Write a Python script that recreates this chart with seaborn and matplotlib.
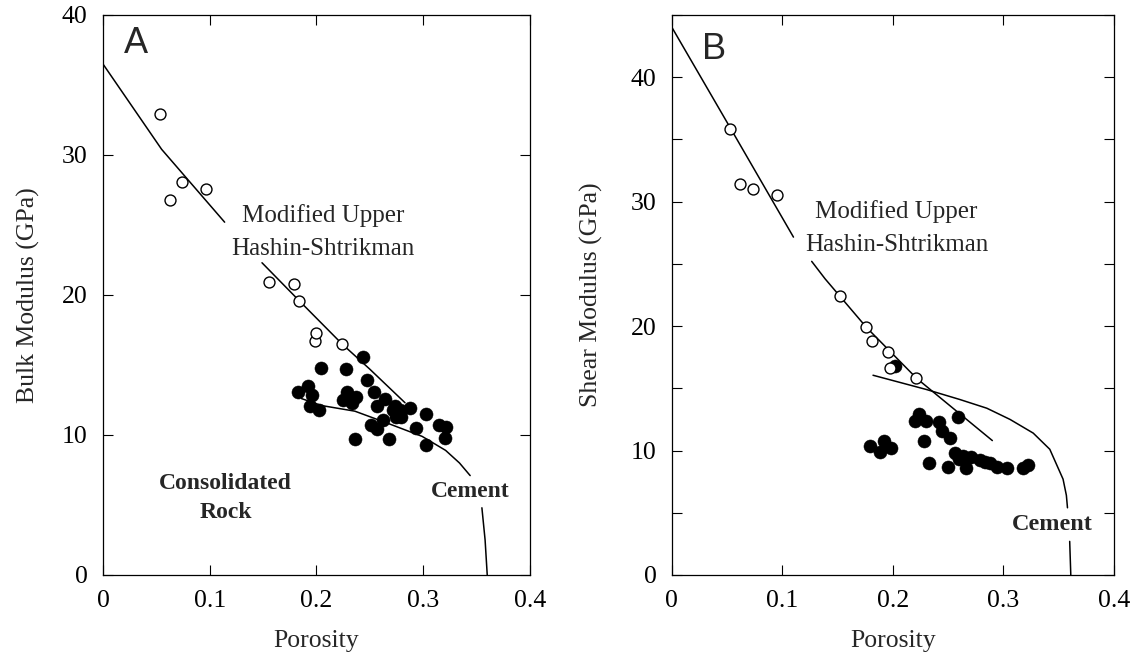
import numpy as np
import matplotlib
matplotlib.use("Agg")
import matplotlib.pyplot as plt
import seaborn as sns

# ---------------- Panel A : Bulk modulus ----------------
a_open_por = [0.053, 0.063, 0.074, 0.097, 0.156, 0.179, 0.184, 0.199, 0.200, 0.224]
a_open_k = [32.9, 26.8, 28.1, 27.6, 20.9, 20.8, 19.6, 16.7, 17.3, 16.5]

a_fill_por = [0.244, 0.204, 0.228, 0.247, 0.192, 0.183, 0.196, 0.229, 0.237, 0.225,
              0.233, 0.254, 0.264, 0.257, 0.194, 0.202, 0.274, 0.278, 0.272, 0.279,
              0.275, 0.288, 0.303, 0.262, 0.251, 0.257, 0.293, 0.315, 0.321, 0.320,
              0.236, 0.268, 0.303]
a_fill_k = [15.6, 14.8, 14.7, 13.9, 13.5, 13.05, 12.85, 13.05, 12.7, 12.5,
            12.3, 13.1, 12.6, 12.1, 12.1, 11.8, 12.1, 11.8, 11.8, 11.3,
            11.3, 11.9, 11.5, 11.1, 10.7, 10.4, 10.5, 10.7, 10.6, 9.8,
            9.7, 9.7, 9.3]

a_hs_por = [0.0, 0.055, 0.114, 0.149, 0.185, 0.224, 0.250, 0.283]
a_hs_k = [36.5, 30.4, 25.2, 22.3, 19.5, 16.5, 14.7, 12.3]
a_hs_seg = [0, 0, 0, 1, 1, 1, 1, 1]

a_cem_por = [0.186, 0.205, 0.236, 0.268, 0.299, 0.321, 0.334, 0.344, 0.355, 0.358, 0.360]
a_cem_k = [12.6, 12.1, 11.7, 10.8, 9.9, 8.9, 8.0, 7.1, 4.8, 2.5, 0.0]
a_cem_seg = [0, 0, 0, 0, 0, 0, 0, 0, 1, 1, 1]

# ---------------- Panel B : Shear modulus ----------------
b_open_por = [0.053, 0.062, 0.073, 0.095, 0.152, 0.176, 0.181, 0.196, 0.197, 0.221]
b_open_g = [35.8, 31.4, 31.0, 30.5, 22.4, 19.9, 18.8, 17.9, 16.6, 15.8]

b_fill_por = [0.202, 0.259, 0.224, 0.220, 0.230, 0.242, 0.244, 0.252, 0.228, 0.192,
              0.179, 0.198, 0.188, 0.233, 0.256, 0.263, 0.271, 0.279, 0.288, 0.294,
              0.303, 0.250, 0.266, 0.318, 0.3225, 0.260, 0.283]
b_fill_g = [16.8, 12.7, 12.9, 12.4, 12.4, 12.3, 11.55, 11.0, 10.8, 10.75,
            10.35, 10.2, 9.9, 9.0, 9.8, 9.6, 9.5, 9.2, 9.0, 8.7,
            8.6, 8.7, 8.6, 8.6, 8.8, 9.3, 9.1]

b_hs_por = [0.0, 0.053, 0.110, 0.1265, 0.1386, 0.176, 0.2215, 0.290]
b_hs_g = [44.0, 35.9, 27.15, 25.2, 23.8, 19.9, 15.8, 10.8]
b_hs_seg = [0, 0, 0, 1, 1, 1, 1, 1]

b_cem_por = [0.182, 0.2305, 0.2606, 0.285, 0.306, 0.327, 0.342, 0.354, 0.357, 0.358, 0.360, 0.361]
b_cem_g = [16.05, 14.9, 14.1, 13.4, 12.5, 11.4, 10.1, 7.7, 6.4, 5.4, 2.7, 0.0]
b_cem_seg = [0, 0, 0, 0, 0, 0, 0, 0, 0, 0, 1, 1]

x_ticks = [0, 0.1, 0.2, 0.3, 0.4]
x_ticklabels = ["0", "0.1", "0.2", "0.3", "0.4"]
a_yticks = [0, 10, 20, 30, 40]
a_yticklabels = ["0", "10", "20", "30", "40"]
b_yticks = [0, 5, 10, 15, 20, 25, 30, 35, 40, 45]
b_yticklabels = ["0", "", "10", "", "20", "", "30", "", "40", ""]

# ---------------- styling ----------------
sns.set_theme(style="ticks")
plt.rcParams["font.family"] = ["Liberation Serif", "DejaVu Serif"]
plt.rcParams["axes.linewidth"] = 0.9
plt.rcParams["axes.edgecolor"] = "black"

fig = plt.figure(figsize=(11.35, 6.56), dpi=100)
axA = fig.add_axes([0.0907, 0.1235, 0.3762, 0.8537])
axB = fig.add_axes([0.592, 0.1235, 0.3894, 0.8537])


def draw(ax, op_x, op_y, fi_x, fi_y, hs_x, hs_y, hs_seg, ce_x, ce_y, ce_seg):
    sns.lineplot(x=hs_x, y=hs_y, units=hs_seg, estimator=None, sort=False,
                 color="black", linewidth=1.1, ax=ax, legend=False, zorder=2)
    sns.lineplot(x=ce_x, y=ce_y, units=ce_seg, estimator=None, sort=False,
                 color="black", linewidth=1.1, ax=ax, legend=False, zorder=2)
    sns.scatterplot(x=fi_x, y=fi_y, s=88, color="black", edgecolor="black",
                    linewidth=0.4, ax=ax, legend=False, zorder=3)
    sns.scatterplot(x=op_x, y=op_y, s=62, color="white", edgecolor="black",
                    linewidth=1.0, ax=ax, legend=False, zorder=4)


draw(axA, a_open_por, a_open_k, a_fill_por, a_fill_k,
     a_hs_por, a_hs_k, a_hs_seg, a_cem_por, a_cem_k, a_cem_seg)
draw(axB, b_open_por, b_open_g, b_fill_por, b_fill_g,
     b_hs_por, b_hs_g, b_hs_seg, b_cem_por, b_cem_g, b_cem_seg)

for ax, ylim, yt, ytl, ylab, lx in [
    (axA, (0, 40), a_yticks, a_yticklabels, "Bulk Modulus (GPa)", -0.175),
    (axB, (0, 45), b_yticks, b_yticklabels, "Shear Modulus (GPa)", -0.183),
]:
    ax.set_xlim(0, 0.4)
    ax.set_ylim(*ylim)
    ax.set_xticks(x_ticks)
    ax.set_xticklabels(x_ticklabels)
    ax.set_yticks(yt)
    ax.set_yticklabels(ytl)
    ax.tick_params(direction="in", top=True, right=True, length=7, width=0.8,
                   pad=11, labelsize=18.5, colors="black")
    ax.set_xlabel("Porosity", fontsize=18.5)
    ax.set_ylabel(ylab, fontsize=18.5)
    ax.xaxis.label.set_va("center")
    ax.xaxis.set_label_coords(0.5, -0.118)
    ax.yaxis.label.set_va("center")
    ax.yaxis.set_label_coords(lx, 0.5)
    for sp in ax.spines.values():
        sp.set_visible(True)
        sp.set_color("black")

# panel letters
axA.text(0.078, 0.949, "A", transform=axA.transAxes, ha="center", va="center",
         fontsize=26, family=["Liberation Sans", "DejaVu Sans"])
axB.text(0.095, 0.938, "B", transform=axB.transAxes, ha="center", va="center",
         fontsize=26, family=["Liberation Sans", "DejaVu Sans"])

# annotations panel A
axA.text(0.206, 25.7, "Modified Upper", ha="center", va="center", fontsize=18)
axA.text(0.206, 23.3, "Hashin-Shtrikman", ha="center", va="center", fontsize=18)
axA.text(0.115, 6.55, "Consolidated", ha="center", va="center", fontsize=17,
         fontweight="bold")
axA.text(0.115, 4.43, "Rock", ha="center", va="center", fontsize=17,
         fontweight="bold")
axA.text(0.344, 5.95, "Cement", ha="center", va="center", fontsize=17,
         fontweight="bold")

# annotations panel B
axB.text(0.2027, 29.2, "Modified Upper", ha="center", va="center", fontsize=18)
axB.text(0.204, 26.5, "Hashin-Shtrikman", ha="center", va="center", fontsize=18)
axB.text(0.3445, 4.03, "Cement", ha="center", va="center", fontsize=17.5,
         fontweight="bold")

fig.savefig("out.png", dpi=100, facecolor="white")
